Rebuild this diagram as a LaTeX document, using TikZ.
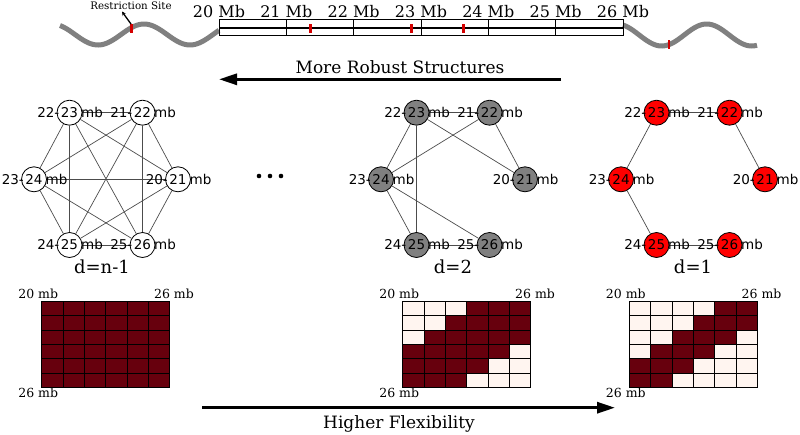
\documentclass[tikz,border=0pt]{standalone}
\usepackage{fontspec}
\setmainfont{DejaVu Serif}
\newfontfamily\graphfont{DejaVu Sans}
\usetikzlibrary{arrows.meta, backgrounds, positioning}
\definecolor{cellon}{HTML}{67000D}
\definecolor{celloff}{HTML}{FFF5F0}
\definecolor{nodegray}{HTML}{808080}
\definecolor{chromgray}{HTML}{808080}
\definecolor{sitered}{HTML}{D40000}
\tikzset{
  vtx/.style={circle, draw=black, line width=0.8pt, minimum size=25pt, inner sep=0pt,
    font=\graphfont\fontsize{13.5}{15}\selectfont},
  vlbl/.style={inner sep=0pt, font=\graphfont\fontsize{13.5}{15}\selectfont},
  edge/.style={draw=black!70, line width=0.7pt},
  ticklbl/.style={inner sep=0pt, anchor=base, font=\fontsize{16}{19}\selectfont},
  mlbl/.style={inner sep=0pt, anchor=base, font=\fontsize{12.5}{14}\selectfont},
  dlbl/.style={inner sep=0pt, anchor=base, font=\fontsize{18}{21}\selectfont},
  arrowlbl/.style={inner sep=0pt, anchor=base, font=\fontsize{17}{20}\selectfont},
  bigarrow/.style={line width=3pt, -{Triangle[length=18pt, width=11pt]}},
  chrom/.style={chromgray, line width=5pt},
  sitemark/.style={sitered, line width=2.5pt}
}
\begin{document}
\begin{tikzpicture}[x=1pt, y=-1pt]
  \useasboundingbox (0,0) rectangle (800,434);

  % Chromosome with the 20-26 Mb window
  \draw[chrom] plot[domain=60:219, samples=80, smooth] (\x, {34.5-10.5*cos(3.913*(\x-144))});
  \draw[chrom] plot[domain=623:757, samples=80, smooth] (\x, {35-11*cos(4*(\x-706.7))});
  \draw[line width=0.8pt] (219,19) rectangle (623,35);
  \draw[line width=2pt] (219,28.3) -- (623,28.3);
  \foreach \k in {1,...,5}
    \draw[line width=0.8pt] ({219+\k*67.33},19) -- ++(0,16);
  \foreach \k in {0,...,6}
    \node[ticklbl] (tick\k) at ({219+\k*67.33},17.5) {{\the\numexpr20+\k\relax} Mb};

  % Restriction sites
  \foreach \x/\y in {131.7/24, 310.7/24, 411.7/24, 463.3/24, 669/40}
    \draw[sitemark] (\x,\y) -- ++(0,8.5);
  \node[inner sep=0pt, font=\fontsize{10.3}{12}\selectfont] (site) at (131,6) {Restriction Site};
  \coordinate (siteend) at (131,24);
  \draw[line width=1.3pt, {Stealth[length=4pt, width=4pt]}-] ([xshift=-9pt, yshift=-1.5pt]site.south) -- (siteend);

  % Top arrow
  \coordinate (robustA) at (561,79.3);
  \coordinate (robustB) at (219,79.3);
  \draw[bigarrow] (robustA) -- (robustB);
  \node[arrowlbl] (robusttxt) at (400,73) {More Robust Structures};

  % Interaction graphs
  \foreach \g/\cx/\col in {L/106/white, M/453/nodegray, R/693/red} {
    \foreach \n/\dx/\dy in {23/-36.5/112.7, 22/36.5/112.7, 24/-72/179.3, 21/72/179.3, 25/-36.5/245, 26/36.5/245} {
      \pgfmathtruncatemacro\prev{\n-1}
      \node[vtx, fill=\col] (\g\n) at ({\cx+\dx},\dy) {\n};
      \node[vlbl, anchor=base east] (\g\n-pre) at ([xshift=-10pt]\g\n.base) {\prev-};
      \node[vlbl, anchor=base west] (\g\n-mb) at ([xshift=11.5pt]\g\n.base) {mb};
    }
  }
  \begin{pgfonlayer}{background}
    \foreach \g/\d in {L/5, M/2, R/1}
      \foreach \a in {21,...,25}
        \foreach \b in {22,...,26} {
          \pgfmathtruncatemacro\gap{\b-\a}
          \ifnum\gap>0 \ifnum\gap>\d\else \draw[edge] (\g\a) -- (\g\b);\fi\fi
        }
  \end{pgfonlayer}
  \foreach \x in {259,270,281}
    \fill (\x,176) circle (2.3);
  \node[dlbl] (dL) at (102,273) {d=n-1};
  \node[dlbl] (dM) at (453,273) {d=2};
  \node[dlbl] (dR) at (693,273) {d=1};

  % Contact matrices
  \foreach \m/\mx/\d in {L/41.7/5, M/402.7/2, R/629.3/1} {
    \foreach \i in {1,...,6}
      \foreach \j in {1,...,6} {
        \pgfmathtruncatemacro\off{abs(\i+\j-7)}
        \ifnum\off>\d \def\cellcol{celloff}\else \def\cellcol{cellon}\fi
        \filldraw[fill=\cellcol, draw=black, line width=0.6pt]
          ({\mx+(\j-1)*21.3},{301.3+(\i-1)*14.33}) rectangle ++(21.3,14.33);
      }
    \node[mlbl] (\m-tl) at ({\mx-3.5},298) {20 mb};
    \node[mlbl] (\m-tr) at ({\mx+127.8+4.5},298) {26 mb};
    \node[mlbl] (\m-bl) at ({\mx-3.5},397.5) {26 mb};
  }

  % Bottom arrow
  \coordinate (flexA) at (202,407.7);
  \coordinate (flexB) at (615,407.7);
  \draw[bigarrow] (flexA) -- (flexB);
  \node[arrowlbl] (flextxt) at (399,428) {Higher Flexibility};
\end{tikzpicture}
\end{document}
